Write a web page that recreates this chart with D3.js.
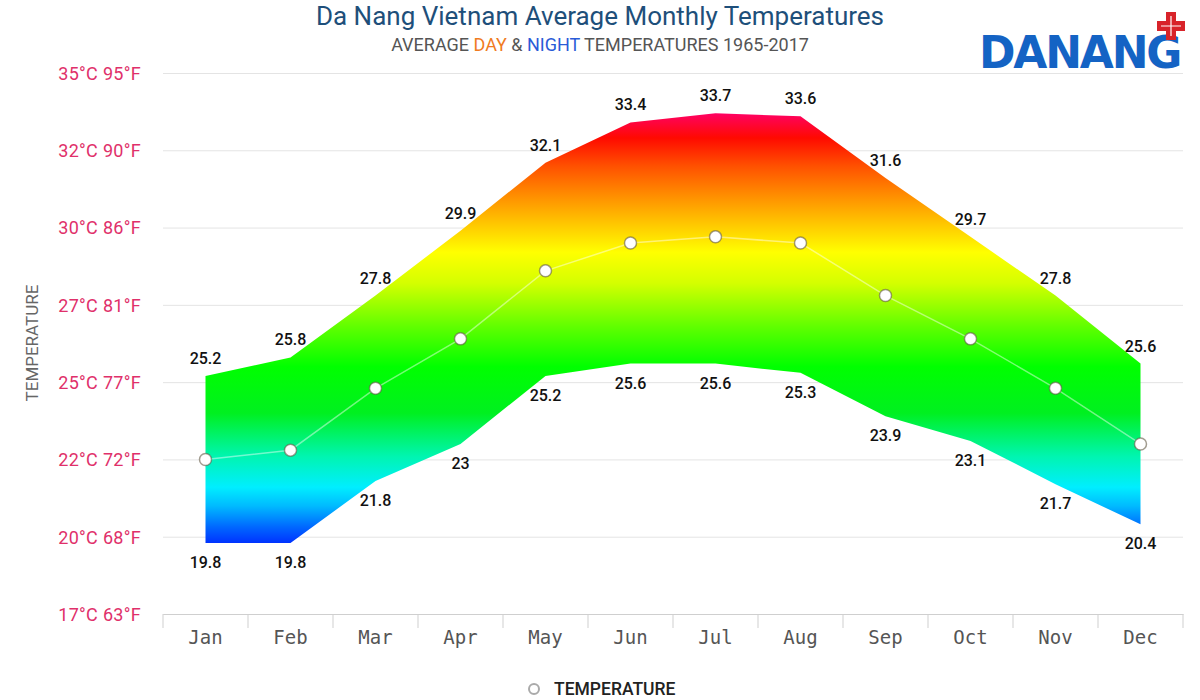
<!DOCTYPE html>
<html>
<head>
<meta charset="utf-8">
<script src="https://cdn.jsdelivr.net/npm/d3@7"></script>
<style>
  body { margin: 0; background: #fff; }
  svg { display: block; }
</style>
</head>
<body>
<div id="chart"></div>
<script>
// data
var months = ["Jan", "Feb", "Mar", "Apr", "May", "Jun", "Jul", "Aug", "Sep", "Oct", "Nov", "Dec"];
var dayTemps = [25.2, 25.8, 27.8, 29.9, 32.1, 33.4, 33.7, 33.6, 31.6, 29.7, 27.8, 25.6];
var nightTemps = [19.8, 19.8, 21.8, 23, 25.2, 25.6, 25.6, 25.3, 23.9, 23.1, 21.7, 20.4];
var avgTemps = [22.5, 22.8, 24.8, 26.4, 28.6, 29.5, 29.7, 29.5, 27.8, 26.4, 24.8, 23.0];
var yTicks = [17.5, 20, 22.5, 25, 27.5, 30, 32.5, 35];
var yTickLabels = ["17°C 63°F", "20°C 68°F", "22°C 72°F", "25°C 77°F", "27°C 81°F", "30°C 86°F", "32°C 90°F", "35°C 95°F"];

var svgWidth = 1200;
var svgHeight = 700;
var margin = { top: 73, right: 17, bottom: 86, left: 163 };
var width = svgWidth - margin.left - margin.right;
var height = svgHeight - margin.top - margin.bottom;

var svg = d3.select("#chart")
  .append("svg")
    .attr("width", svgWidth)
    .attr("height", svgHeight);

var chartGroup = svg.append("g")
  .attr("transform", `translate(${margin.left}, ${margin.top})`);

var data = months.map(function(m, i) {
  return { month: m, high: dayTemps[i], low: nightTemps[i], avg: avgTemps[i] };
});

// scales
var x = d3.scaleBand()
  .domain(months)
  .range([0, width])
  .padding(0);

var y = d3.scaleLinear()
  .domain([17.5, 35])
  .range([height, 0]);

var cx = function(d) { return x(d.month) + x.bandwidth() / 2; };

// gridlines
chartGroup.append("g")
  .attr("class", "grid")
  .call(d3.axisLeft(y).tickValues(yTicks).tickSize(-width).tickFormat(""))
  .call(g => g.select(".domain").remove())
  .call(g => g.selectAll("line").attr("stroke", "#e4e4e4").attr("stroke-width", 1));

// y axis labels
var labelByTick = {};
yTicks.forEach(function(t, i) { labelByTick[t] = yTickLabels[i]; });

chartGroup.append("g")
  .attr("transform", "translate(-19, 0)")
  .call(d3.axisLeft(y).tickValues(yTicks).tickSize(0).tickFormat(d => labelByTick[d]))
  .call(g => g.select(".domain").remove())
  .call(g => g.selectAll("text")
    .attr("fill", "#e0306a")
    .attr("font-family", "Roboto, sans-serif")
    .attr("font-size", "18px")
    .attr("letter-spacing", "0.3px")
    .attr("dy", "0.35em"));

// gradient for the range area
var defs = svg.append("defs");
var grad = defs.append("linearGradient")
  .attr("id", "tempGrad")
  .attr("gradientUnits", "userSpaceOnUse")
  .attr("x1", 0).attr("x2", 0)
  .attr("y1", y(19.8)).attr("y2", y(33.8));

var stops = [
  [19.8, "#0033ff"], [20.3, "#0066ff"], [21.0, "#00bbff"], [21.6, "#00eeff"],
  [22.6, "#00f5b0"], [24.0, "#00f020"], [25.5, "#00ff00"], [26.8, "#60ff00"],
  [28.2, "#d4ff00"], [29.2, "#ffff00"], [30.1, "#ffc800"], [31.0, "#ff9000"],
  [32.0, "#ff5000"], [32.9, "#ff0a00"], [33.8, "#ff0070"]
];
stops.forEach(function(s) {
  grad.append("stop")
    .attr("offset", (s[0] - 19.8) / (33.8 - 19.8))
    .attr("stop-color", s[1]);
});

// range area
var area = d3.area()
  .x(cx)
  .y0(d => y(d.low))
  .y1(d => y(d.high));

chartGroup.append("path")
  .datum(data)
  .attr("d", area)
  .attr("fill", "url(#tempGrad)");

// average line
var line = d3.line()
  .x(cx)
  .y(d => y(d.avg));

chartGroup.append("path")
  .datum(data)
  .attr("d", line)
  .attr("fill", "none")
  .attr("stroke", "rgba(255,255,255,0.45)")
  .attr("stroke-width", 1.5);

chartGroup.selectAll(".dot")
  .data(data)
  .enter()
  .append("circle")
  .attr("class", "dot")
  .attr("cx", cx)
  .attr("cy", d => y(d.avg))
  .attr("r", 6)
  .attr("fill", "#fff")
  .attr("stroke", "rgba(100,90,70,0.6)")
  .attr("stroke-width", 1.5);

// value labels
chartGroup.selectAll(".hiLabel")
  .data(data)
  .enter()
  .append("text")
  .attr("x", cx)
  .attr("y", d => y(d.high) - 12)
  .attr("text-anchor", "middle")
  .attr("font-family", "Roboto, sans-serif")
  .attr("font-weight", 500)
  .attr("font-size", "16px")
  .attr("fill", "#111")
  .text(d => d.high);

chartGroup.selectAll(".loLabel")
  .data(data)
  .enter()
  .append("text")
  .attr("x", cx)
  .attr("y", d => y(d.low) + 25)
  .attr("text-anchor", "middle")
  .attr("font-family", "Roboto, sans-serif")
  .attr("font-weight", 500)
  .attr("font-size", "16px")
  .attr("fill", "#111")
  .text(d => d.low);

// x axis
var xAxisG = chartGroup.append("g")
  .attr("transform", `translate(0, ${height})`)
  .call(d3.axisBottom(x).tickSize(0).tickPadding(17))
  .call(g => g.select(".domain").attr("stroke", "#cfcfcf"))
  .call(g => g.selectAll("text")
    .attr("fill", "#555")
    .attr("font-family", "'DejaVu Sans Mono', monospace")
    .attr("font-size", "19px"));

var bounds = months.map(m => x(m)).concat([width]);
xAxisG.selectAll(".bound")
  .data(bounds)
  .enter()
  .append("line")
  .attr("class", "bound")
  .attr("x1", d => d).attr("x2", d => d)
  .attr("y1", 0).attr("y2", 14)
  .attr("stroke", "#cfcfcf");

// y axis title
svg.append("text")
  .attr("transform", "translate(38, 343) rotate(-90)")
  .attr("text-anchor", "middle")
  .attr("font-family", "Roboto, sans-serif")
  .attr("font-size", "17px")
  .attr("fill", "#666")
  .text("TEMPERATURE");

// title and subtitle
svg.append("text")
  .attr("x", 600)
  .attr("y", 25)
  .attr("text-anchor", "middle")
  .attr("font-family", "Roboto, sans-serif")
  .attr("font-size", "26px")
  .attr("fill", "#1e4f7a")
  .text("Da Nang Vietnam Average Monthly Temperatures");

var sub = svg.append("text")
  .attr("x", 600)
  .attr("y", 51)
  .attr("text-anchor", "middle")
  .attr("font-family", "Roboto, sans-serif")
  .attr("font-size", "18px")
  .attr("fill", "#555");
sub.append("tspan").text("AVERAGE ");
sub.append("tspan").attr("fill", "#f07b22").text("DAY");
sub.append("tspan").text(" & ");
sub.append("tspan").attr("fill", "#2a5bd7").text("NIGHT");
sub.append("tspan").text(" TEMPERATURES 1965-2017");

// logo
svg.append("text")
  .attr("x", 979)
  .attr("y", 68)
  .attr("font-family", "'DejaVu Sans', sans-serif")
  .attr("font-weight", "bold")
  .attr("font-size", "44px")
  .attr("letter-spacing", "-2.2px")
  .attr("fill", "#1463c4")
  .text("DANANG");

var cross = svg.append("g").attr("transform", "translate(1171, 26)");
cross.append("path")
  .attr("d", "M-5,-14H5V-5H14V5H5V14H-5V5H-14V-5H-5Z")
  .attr("fill", "#d8232a");
cross.append("path")
  .attr("d", "M0,-10V10M-10,0H10")
  .attr("stroke", "#fff")
  .attr("stroke-width", 1.2);

// legend
svg.append("circle")
  .attr("cx", 534)
  .attr("cy", 689)
  .attr("r", 5)
  .attr("fill", "#fff")
  .attr("stroke", "#aaa")
  .attr("stroke-width", 2);

svg.append("text")
  .attr("x", 554)
  .attr("y", 695)
  .attr("font-family", "Roboto, sans-serif")
  .attr("font-weight", 500)
  .attr("font-size", "17.5px")
  .attr("fill", "#222")
  .text("TEMPERATURE");
</script>
</body>
</html>
